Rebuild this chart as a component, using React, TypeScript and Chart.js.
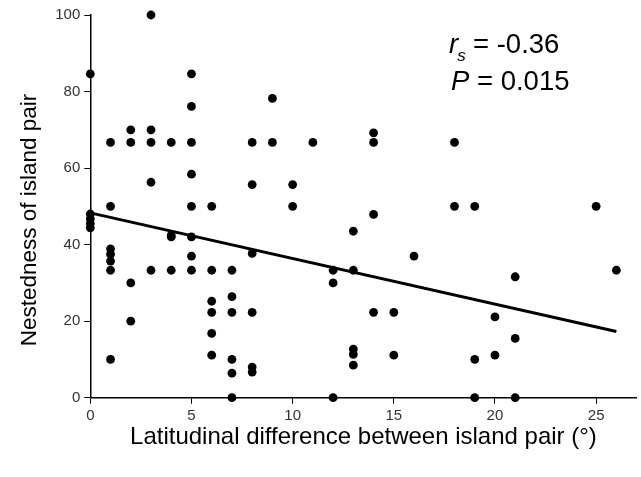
import React, { useEffect, useRef } from "react";
import { Chart, registerables } from "chart.js";

Chart.register(...registerables);

// Latitudinal difference (x) and nestedness (y) for each island pair
const latDiff: number[] = [
  0, 0, 0, 0, 0,
  1, 1, 1, 1, 1, 1, 1,
  2, 2, 2, 2,
  3, 3, 3, 3, 3,
  4, 4, 4, 4,
  5, 5, 5, 5, 5, 5, 5, 5,
  6, 6, 6, 6, 6, 6,
  7, 7, 7, 7, 7, 7,
  8, 8, 8, 8, 8, 8,
  9, 9,
  10, 10,
  11,
  12, 12, 12,
  13, 13, 13, 13, 13,
  14, 14, 14, 14,
  15, 15,
  16,
  18, 18,
  19, 19, 19,
  20, 20,
  21, 21, 21,
  25,
  26,
];
const nestedness: number[] = [
  84.6, 48, 46.7, 45.5, 44.4,
  66.7, 50, 38.9, 37.5, 35.7, 33.3, 10,
  70, 66.7, 30, 20,
  100, 70, 66.7, 56.3, 33.3,
  66.7, 42.4, 42, 33.3,
  84.6, 76.1, 66.7, 58.4, 50, 42, 37, 33.3,
  50, 33.3, 25.2, 22.3, 16.8, 11.1,
  33.3, 26.4, 22.3, 10, 6.4, 0,
  66.7, 55.7, 37.7, 22.3, 8, 6.7,
  78.2, 66.7,
  55.7, 50,
  66.7,
  33.3, 30, 0,
  43.5, 33.3, 12.7, 11.3, 8.5,
  69.2, 66.7, 47.9, 22.3,
  22.3, 11.1,
  37,
  66.7, 50,
  50, 10, 0,
  21.1, 11.1,
  31.6, 15.5, 0,
  50,
  33.3,
];

// Fitted regression line end points
const fitX: number[] = [0, 26];
const fitY: number[] = [48.3, 17.3];

const xTitle = "Latitudinal difference between island pair (°)";
const yTitle = "Nestedness of island pair";
const statR = "= -0.36";
const statP = " = 0.015";

const FONT = '"Liberation Sans", Arial, sans-serif';

const textPlugin = {
  id: "texts",
  afterDraw(chart: any) {
    const ctx: CanvasRenderingContext2D = chart.ctx;
    ctx.save();
    ctx.fillStyle = "#000";
    // y axis title
    ctx.save();
    ctx.translate(30, 220);
    ctx.rotate(-Math.PI / 2);
    ctx.font = `22.5px ${FONT}`;
    ctx.textAlign = "center";
    ctx.textBaseline = "middle";
    ctx.fillText(yTitle, 0, 0);
    ctx.restore();

    // statistics
    ctx.textAlign = "left";
    ctx.textBaseline = "alphabetic";
    ctx.font = `italic 27.5px ${FONT}`;
    ctx.fillText("r", 449, 53);
    const rw = ctx.measureText("r").width;
    ctx.font = `italic 17px ${FONT}`;
    ctx.fillText("s", 449 + rw - 1, 61);
    ctx.font = `27.5px ${FONT}`;
    ctx.fillText(statR, 473, 53);

    ctx.font = `italic 27.5px ${FONT}`;
    ctx.fillText("P", 451, 90);
    const pw = ctx.measureText("P").width;
    ctx.font = `27.5px ${FONT}`;
    ctx.fillText(statP, 451 + pw, 90);
    ctx.restore();
  },
};

export default function App() {
  const ref = useRef<HTMLCanvasElement>(null);
  useEffect(() => {
    document.body.style.margin = "0";
    const canvas = ref.current!;
    const points = latDiff.map((x, i) => ({ x, y: nestedness[i] }));
    const fit = fitX.map((x, i) => ({ x, y: fitY[i] }));
    const tickFont = { family: FONT, size: 15 };
    const chart = new Chart(canvas, {
      type: "scatter",
      data: {
        datasets: [
          {
            type: "line",
            data: fit,
            borderColor: "#000",
            borderWidth: 3,
            pointRadius: 0,
            fill: false,
            clip: false,
          } as any,
          {
            type: "scatter",
            data: points,
            backgroundColor: "#000",
            borderColor: "#000",
            pointRadius: 4.4,
            borderWidth: 0,
            clip: false,
          } as any,
        ],
      },
      options: {
        animation: false,
        responsive: false,
        maintainAspectRatio: false,
        devicePixelRatio: 1,
        layout: { padding: { top: 15, right: 2.6, left: 0, bottom: 0 } },
        plugins: { legend: { display: false }, tooltip: { enabled: false } },
        scales: {
          x: {
            type: "linear",
            min: 0,
            max: 27,
            afterFit(s: any) {
              s.height = 79.3;
            },
            ticks: { stepSize: 5, includeBounds: false, font: tickFont, color: "#333", padding: 3 },
            grid: { drawOnChartArea: false, tickLength: 6, color: "#000" },
            border: { color: "#000", width: 1.5 },
            title: {
              display: true,
              text: xTitle,
              color: "#000",
              font: { family: FONT, size: 24 },
              padding: { top: 0, bottom: 25 },
            },
          },
          y: {
            type: "linear",
            min: 0,
            max: 100,
            afterFit(s: any) {
              s.width = 90.3;
            },
            ticks: { stepSize: 20, font: tickFont, color: "#333", padding: 4 },
            grid: { drawOnChartArea: false, tickLength: 6, color: "#000" },
            border: { color: "#000", width: 1.5 },
          },
        },
      },
      plugins: [textPlugin],
    });
    return () => chart.destroy();
  }, []);
  return (
    <div style={{ width: 641, height: 477 }}>
      <canvas ref={ref} width={641} height={477} style={{ display: "block" }} />
    </div>
  );
}
